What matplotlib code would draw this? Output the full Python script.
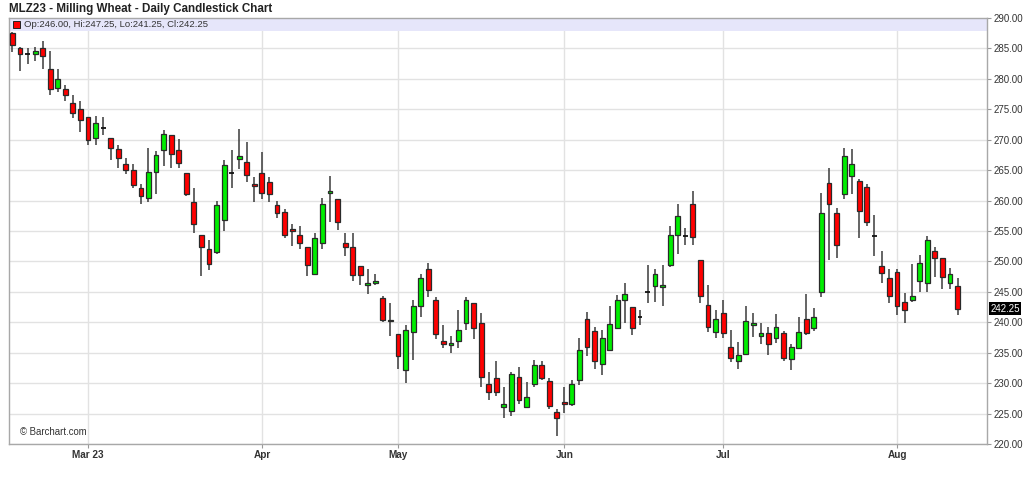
import matplotlib
matplotlib.use("Agg")
import matplotlib.pyplot as plt
import matplotlib.transforms as mtransforms
from matplotlib.patches import Rectangle

plt.rcParams["font.family"] = ["Liberation Sans", "DejaVu Sans"]

# daily OHLC, MLZ23 milling wheat, mid Feb -> mid Aug 2023
opens = [287.5, 285.1, 284.1, 284.1, 285.0, 281.7, 278.5, 278.3, 276.1, 275.1,
         273.7, 270.3, 272.0, 270.2, 268.5, 266.0, 265.0, 262.1, 260.4, 264.7,
         268.3, 270.8, 268.3, 264.5, 259.8, 254.3, 252.1, 251.6, 256.8, 264.5,
         266.9, 266.4, 262.8, 264.5, 263.1, 259.3, 258.1, 255.4, 254.3, 252.3,
         248.0, 253.0, 261.2, 260.3, 253.1, 252.3, 249.2, 246.1, 246.5, 244.0,
         240.2, 238.0, 232.1, 238.4, 242.6, 248.8, 243.7, 236.9, 236.3, 236.9,
         239.9, 243.2, 239.9, 229.8, 230.8, 226.0, 225.5, 231.0, 226.0, 229.8,
         232.9, 230.4, 225.2, 226.9, 226.6, 230.5, 240.5, 238.5, 233.2, 235.5,
         239.0, 243.7, 242.5, 240.9, 245.0, 246.0, 245.8, 249.4, 254.4, 254.2,
         259.4, 250.2, 242.9, 238.4, 241.6, 236.0, 233.7, 234.8, 239.5, 237.8,
         238.2, 237.5, 238.2, 233.9, 235.8, 240.5, 239.1, 245.0, 262.9, 258.0,
         261.1, 264.0, 263.2, 262.2, 254.2, 249.2, 247.2, 248.2, 243.4, 243.7,
         246.8, 246.5, 251.7, 250.5, 246.4, 246.0]
highs = [287.75, 285.2, 285.0, 285.2, 286.3, 284.6, 281.7, 279.0, 277.3, 276.3,
         273.7, 273.9, 273.7, 270.2, 269.2, 267.0, 266.0, 262.7, 268.6, 268.2,
         271.6, 270.8, 270.1, 264.5, 262.1, 254.3, 253.6, 259.9, 266.6, 268.3,
         271.8, 269.7, 263.8, 267.9, 263.8, 259.9, 258.6, 256.1, 255.8, 252.3,
         254.6, 260.4, 264.0, 260.3, 254.6, 254.6, 249.2, 248.8, 248.0, 244.3,
         243.2, 238.0, 239.5, 243.7, 247.9, 249.7, 244.1, 239.5, 237.7, 242.0,
         244.2, 243.2, 241.6, 231.8, 233.6, 229.3, 231.8, 232.6, 230.2, 233.8,
         233.7, 230.8, 225.8, 229.3, 230.5, 237.5, 241.7, 239.2, 238.8, 242.6,
         244.5, 246.5, 242.5, 242.0, 249.4, 248.7, 249.4, 255.8, 259.4, 255.5,
         261.5, 250.2, 246.1, 242.0, 243.7, 238.7, 236.7, 242.6, 241.5, 239.9,
         239.2, 241.3, 238.5, 236.5, 240.9, 244.7, 242.3, 261.3, 265.3, 258.7,
         268.7, 268.4, 263.5, 262.8, 257.7, 251.7, 248.8, 248.8, 244.8, 249.5,
         251.0, 254.2, 252.4, 250.5, 249.0, 247.25]
lows = [284.4, 281.3, 282.5, 283.0, 281.7, 277.4, 277.9, 276.3, 273.5, 271.3,
        269.1, 269.1, 270.8, 266.6, 265.4, 264.3, 262.0, 259.5, 259.8, 261.0,
        265.6, 265.3, 265.3, 260.8, 254.6, 247.6, 248.6, 251.3, 255.0, 262.0,
        265.2, 263.1, 259.8, 260.3, 259.8, 257.1, 253.9, 252.5, 252.1, 247.6,
        248.0, 252.1, 256.5, 255.2, 250.9, 246.8, 246.1, 244.7, 246.1, 240.0,
        237.7, 232.4, 230.0, 233.8, 240.9, 244.2, 237.3, 235.7, 234.9, 235.7,
        238.7, 237.3, 229.4, 227.2, 227.9, 224.2, 224.6, 226.5, 226.0, 229.4,
        230.5, 225.8, 221.3, 225.1, 226.2, 229.7, 234.4, 232.4, 231.4, 235.5,
        239.0, 239.9, 237.9, 239.5, 243.2, 243.4, 242.6, 249.1, 251.3, 252.7,
        252.7, 243.2, 238.4, 237.4, 237.4, 233.5, 232.4, 234.8, 237.6, 236.4,
        234.6, 236.6, 233.7, 232.1, 235.7, 237.9, 238.6, 244.2, 250.2, 250.6,
        260.2, 261.1, 253.9, 255.8, 250.9, 246.4, 243.2, 241.2, 239.9, 243.4,
        245.0, 245.0, 247.5, 245.4, 245.4, 241.25]
closes = [285.6, 284.1, 284.1, 284.6, 283.8, 278.3, 279.9, 277.3, 274.4, 273.3,
          270.0, 272.8, 272.0, 268.7, 267.0, 264.95, 262.5, 260.7, 264.7, 267.5,
          271.0, 267.6, 266.1, 261.0, 256.1, 252.3, 249.5, 259.3, 265.9, 264.5,
          267.4, 264.2, 262.4, 261.3, 261.0, 257.9, 254.3, 255.0, 253.0, 249.4,
          253.9, 259.5, 261.5, 256.5, 252.3, 247.7, 247.7, 246.5, 246.8, 240.4,
          240.4, 234.5, 238.8, 242.6, 247.2, 245.3, 238.0, 236.4, 236.6, 238.7,
          243.6, 239.0, 231.0, 228.5, 228.5, 226.5, 231.5, 227.3, 227.7, 232.9,
          230.8, 226.2, 224.2, 226.6, 229.8, 235.5, 236.0, 233.7, 237.4, 239.8,
          243.7, 244.7, 239.0, 240.9, 245.0, 247.9, 246.2, 254.4, 257.5, 254.2,
          254.0, 244.3, 239.2, 240.5, 238.2, 234.2, 234.6, 240.2, 239.9, 238.3,
          236.4, 239.2, 234.2, 236.0, 238.4, 238.2, 240.8, 258.0, 259.4, 252.7,
          267.3, 266.0, 258.3, 256.5, 254.2, 248.1, 244.3, 242.7, 242.0, 244.4,
          249.7, 253.5, 250.6, 247.5, 247.9, 242.25]

# first trading day of each month (bar index)
month_labels = ["Mar 23", "Apr", "May", "Jun", "Jul", "Aug"]
month_idx = [10, 33, 51, 73, 94, 117]
y_ticks = [220, 225, 230, 235, 240, 245, 250, 255, 260, 265, 270, 275, 280, 285, 290]

UP = "#00ee00"
DOWN = "#ff0000"
EDGE = "#2a2a2a"
GRID = "#e2e2e2"

fig = plt.figure(figsize=(10.24, 4.8), dpi=100)
ax = fig.add_axes([9 / 1024, 1 - 444 / 480, 978 / 1024, 426 / 480])

x = list(range(len(opens)))
ax.vlines(x, lows, highs, color="#3a3a3a", lw=1.1, zorder=2)

width = 0.64
for i in x:
    o, c = opens[i], closes[i]
    if abs(c - o) < 0.15:
        ax.hlines(o, i - width / 2, i + width / 2, color="#111111", lw=1.3, zorder=3)
        continue
    col = UP if c > o else DOWN
    ax.bar(i, abs(c - o), bottom=min(o, c), width=width, color=col,
           edgecolor=EDGE, linewidth=0.9, zorder=3)

ax.set_xlim(-0.45, 128.9)
ax.set_ylim(220, 290)

ax.set_yticks(y_ticks)
ax.set_yticklabels([f"{v:.2f}" for v in y_ticks])
ax.yaxis.tick_right()
ax.tick_params(axis="y", length=3, width=0.8, color="#999999", labelsize=7,
               labelcolor="#333333", pad=2)
ax.set_xticks(month_idx)
ax.set_xticklabels(month_labels, fontweight="bold")
ax.tick_params(axis="x", length=3, width=0.8, color="#999999", labelsize=7.2,
               labelcolor="#333333", pad=1.5)
ax.grid(True, color=GRID, lw=1.0, zorder=0)
ax.set_axisbelow(True)
for s in ax.spines.values():
    s.set_color("#a8a8a8")
    s.set_linewidth(1.0)

# info band across the top of the plot
ax.add_patch(Rectangle((0, 1 - 13 / 426), 1, 13 / 426, transform=ax.transAxes,
                       facecolor="#e6e6fa", edgecolor="none", zorder=1))
ax.add_patch(Rectangle((0.0045, 0.9765), 0.0065, 0.0165, transform=ax.transAxes,
                       facecolor=DOWN, edgecolor="#222222", lw=0.7, zorder=4))
ax.text(0.0155, 0.985, f"Op:{opens[-1]:.2f}, Hi:{highs[-1]:.2f}, "
        f"Lo:{lows[-1]:.2f}, Cl:{closes[-1]:.2f}",
        transform=ax.transAxes, fontsize=6.8, color="#333333", va="center", zorder=4)

ax.text(0.011, 0.027, "\u00a9 Barchart.com", transform=ax.transAxes,
        fontsize=6.9, color="#333333", va="center")

# last price marker on the price axis
trans = mtransforms.blended_transform_factory(ax.transAxes, ax.transData)
ax.text(1.0035, closes[-1], f"{closes[-1]:.2f}", transform=trans, fontsize=7,
        color="white", va="center", ha="left", zorder=5,
        bbox=dict(boxstyle="square,pad=0.12", facecolor="black", edgecolor="none"))

fig.text(9 / 1024, 1 - 9 / 480, "MLZ23 - Milling Wheat - Daily Candlestick Chart",
         fontsize=8.4, fontweight="bold", color="#222222", va="center")

fig.savefig("out.png", dpi=100, facecolor="white")
